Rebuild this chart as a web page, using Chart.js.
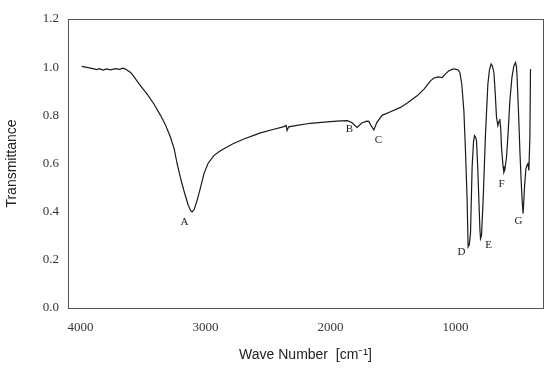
<!DOCTYPE html>
<html>
<head>
<meta charset="utf-8">
<script src="https://cdn.jsdelivr.net/npm/chart.js@4.4.0/dist/chart.umd.min.js"></script>
<style>
  html, body { margin: 0; padding: 0; background: #fff; }
  #wrap { width: 551px; height: 370px; }
</style>
</head>
<body>
<div id="wrap"><canvas id="irChart" width="551" height="370"></canvas></div>
<script>
// Spectrum (wave number in cm-1, transmittance)
const waveNumbers = [
  3990, 3940, 3900, 3870, 3850, 3820, 3790, 3760, 3720, 3690, 3660, 3640, 3600, 3587,
  3530, 3467, 3410, 3360, 3320, 3280, 3250, 3227, 3200, 3173, 3140, 3120, 3107, 3090,
  3067, 3040, 3013, 2980, 2933, 2890, 2853, 2780, 2693, 2620, 2560, 2460, 2373, 2355,
  2347, 2335, 2280, 2160, 2050, 1950, 1867, 1830, 1787, 1750, 1710, 1693, 1675, 1653,
  1630, 1587, 1520, 1440, 1380, 1307, 1250, 1200, 1173, 1140, 1107, 1080, 1053, 1020,
  1000, 980, 965, 950, 933, 920, 907, 899, 890, 880, 867, 856, 848, 840, 832, 822, 813,
  805, 800, 792, 779, 760, 741, 728, 715, 705, 693, 683, 672, 661, 652, 645, 638, 632,
  620, 613, 605, 592, 580, 565, 548, 533, 520, 512, 507, 495, 485, 475, 467, 459, 448,
  437, 430, 421, 413, 405, 400
];
const transmittance = [
  1.003, 0.998, 0.994, 0.990, 0.994, 0.988, 0.993, 0.989, 0.994, 0.991, 0.996, 0.992, 0.978, 0.971,
  0.930, 0.888, 0.845, 0.800, 0.760, 0.709, 0.660, 0.599, 0.540, 0.488, 0.430, 0.405, 0.399, 0.410,
  0.447, 0.500, 0.557, 0.600, 0.633, 0.650, 0.661, 0.682, 0.702, 0.716, 0.727, 0.741, 0.753, 0.758,
  0.737, 0.752, 0.757, 0.767, 0.772, 0.776, 0.778, 0.770, 0.750, 0.768, 0.776, 0.775, 0.757, 0.739,
  0.770, 0.800, 0.815, 0.833, 0.853, 0.881, 0.910, 0.943, 0.955, 0.960, 0.957, 0.972, 0.985, 0.992,
  0.992, 0.988, 0.978, 0.930, 0.819, 0.650, 0.447, 0.254, 0.262, 0.310, 0.585, 0.690, 0.716, 0.710, 0.695, 0.580, 0.447,
  0.330, 0.288, 0.300, 0.447, 0.723, 0.930, 0.990, 1.013, 1.005, 0.978, 0.900, 0.792, 0.757, 0.775, 0.785, 0.740, 0.667,
  0.590, 0.564, 0.575, 0.626, 0.720, 0.861, 0.960, 1.005, 1.019, 1.000, 0.957, 0.800, 0.654, 0.530, 0.447, 0.392, 0.502,
  0.578, 0.590, 0.599, 0.571, 0.709, 0.992
];

// Peak letters and where they sit (wave number, transmittance)
const peakNames = ["A", "B", "C", "D", "E", "F", "G"];
const peakX = [3168, 1848, 1616, 952, 736, 632, 496];
const peakY = [0.356, 0.741, 0.699, 0.232, 0.261, 0.513, 0.360];

const xTicks = [4000, 3000, 2000, 1000];
const yTicks = [0, 0.2, 0.4, 0.6, 0.8, 1.0, 1.2];

const axisColor = "#555";
const tickFont = { family: "'Liberation Serif', 'DejaVu Serif', serif", size: 13 };

const spectrum = waveNumbers.map((w, i) => ({ x: w, y: transmittance[i] }));

// frame round the plot plus the peak letters
const framePlugin = {
  id: "frame",
  afterDatasetsDraw(chart) {
    const ctx = chart.ctx;
    const a = chart.chartArea;
    ctx.save();
    ctx.strokeStyle = axisColor;
    ctx.lineWidth = 1;
    ctx.strokeRect(a.left + 0.5, a.top + 0.5, a.right - a.left, a.bottom - a.top);

    ctx.fillStyle = "#222";
    ctx.font = "11px 'Liberation Serif', serif";
    ctx.textAlign = "center";
    ctx.textBaseline = "middle";
    const xs = chart.scales.x, ys = chart.scales.y;
    peakNames.forEach((n, i) => {
      ctx.fillText(n, xs.getPixelForValue(peakX[i]), ys.getPixelForValue(peakY[i]));
    });
    ctx.restore();
  }
};

new Chart(document.getElementById("irChart").getContext("2d"), {
  type: "line",
  data: {
    datasets: [{
      data: spectrum,
      borderColor: "#1a1a1a",
      borderWidth: 1.2,
      pointRadius: 0,
      tension: 0,
      fill: false
    }]
  },
  options: {
    responsive: false,
    animation: false,
    layout: { padding: { top: 19, right: 8, left: 0, bottom: 0 } },
    plugins: { legend: { display: false }, tooltip: { enabled: false } },
    scales: {
      x: {
        type: "linear",
        reverse: true,
        min: 300,
        max: 4100,
        afterBuildTicks: s => { s.ticks = xTicks.map(v => ({ value: v })); },
        afterFit: s => { s.height = 62; },
        grid: { display: false, drawTicks: true, tickLength: 5, tickColor: axisColor },
        border: { color: axisColor },
        ticks: { color: "#333", font: tickFont, padding: 7, maxRotation: 0, callback: v => String(v) },
        title: {
          display: true,
          text: "Wave Number  [cm⁻¹]",
          color: "#222",
          font: { family: "'Liberation Sans', Arial, sans-serif", size: 14 },
          padding: { top: 5, bottom: 6 }
        }
      },
      y: {
        min: 0,
        max: 1.2,
        afterBuildTicks: s => { s.ticks = yTicks.map(v => ({ value: v })); },
        afterFit: s => { s.width = 68; },
        grid: { display: false, drawTicks: true, tickLength: 5, tickColor: axisColor },
        border: { color: axisColor },
        ticks: {
          color: "#333",
          font: tickFont,
          padding: 4,
          callback: v => v.toFixed(1)
        },
        title: {
          display: true,
          text: "Transmittance",
          color: "#222",
          font: { family: "'Liberation Sans', Arial, sans-serif", size: 14 },
          padding: { bottom: 2 }
        }
      }
    }
  },
  plugins: [framePlugin]
});
</script>
</body>
</html>
